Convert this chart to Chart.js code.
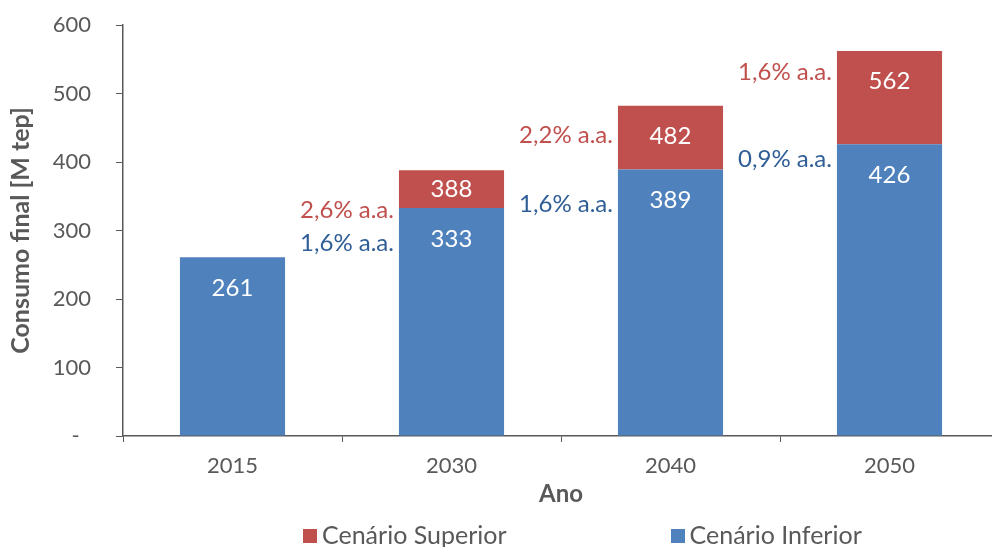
<!DOCTYPE html>
<html>
<head>
<meta charset="utf-8">
<script src="https://cdn.jsdelivr.net/npm/chart.js@4"></script>
<style>
  body { margin: 0; overflow: hidden; background: #fff; }
  #wrap { position: relative; width: 1000px; height: 547px; }
  #legend { position: absolute; left: 303px; top: 519px; display: flex; gap: 164px; line-height: 30px;
            font-family: Lato, "Open Sans", sans-serif; font-size: 25px; color: #595959; }
  #legend span.box { display: inline-block; width: 14px; height: 14px; margin-right: 5px; vertical-align: 1px; }
</style>
</head>
<body>
<div id="wrap">
  <canvas id="chart" width="1000" height="547"></canvas>
  <div id="legend"></div>
</div>
<script>
// data
const years = ['2015', '2030', '2040', '2050'];
const inferior = [261, 333, 389, 426];   // Cenário Inferior
const superior = [261, 388, 482, 562];   // Cenário Superior (total)
const seriesNames = ['Cenário Superior', 'Cenário Inferior'];
const seriesColors = ['#C0504D', '#4F81BD'];
const yTicks = [0, 100, 200, 300, 400, 500, 600];
// growth rates shown left of the bars 2030, 2040, 2050
const inferiorRates = ['1,6% a.a.', '1,6% a.a.', '0,9% a.a.'];
const superiorRates = ['2,6% a.a.', '2,2% a.a.', '1,6% a.a.'];

const FONT = 'Lato, "Open Sans", sans-serif';
const GRAY = '#595959';

const extra = superior.map((v, i) => v - inferior[i]);

// value labels inside the bars + growth rate notes
const labelPlugin = {
  id: 'labels',
  afterDatasetsDraw(chart) {
    const ctx = chart.ctx;
    ctx.save();
    ctx.font = '24px ' + FONT;
    ctx.fillStyle = '#fff';
    ctx.textAlign = 'center';
    ctx.textBaseline = 'middle';
    const metaInf = chart.getDatasetMeta(0);
    const metaSup = chart.getDatasetMeta(1);
    metaInf.data.forEach((bar, i) => {
      const h = bar.base - bar.y;
      ctx.fillText(inferior[i], bar.x, bar.y + Math.min(31, h / 2));
    });
    metaSup.data.forEach((bar, i) => {
      if (extra[i] <= 0) return;
      const h = bar.base - bar.y;
      ctx.fillText(superior[i], bar.x, bar.y + Math.min(30, h / 2));
    });

    // growth rates
    ctx.font = '24px ' + FONT;
    ctx.textAlign = 'right';
    const infOff = [35, 35, 15];
    const supOff = [40, 29, 21];
    for (let k = 0; k < 3; k++) {
      const bi = metaInf.data[k + 1];
      const bs = metaSup.data[k + 1];
      const left = bi.x - bi.width / 2 - 5;
      ctx.fillStyle = '#2F5E96';
      ctx.fillText(inferiorRates[k], left, bi.y + infOff[k]);
      ctx.fillStyle = '#C0504D';
      ctx.fillText(superiorRates[k], left, bs.y + supOff[k]);
    }
    ctx.restore();
  }
};

new Chart(document.getElementById('chart'), {
  type: 'bar',
  data: {
    labels: years,
    datasets: [
      { label: seriesNames[1], data: inferior, backgroundColor: seriesColors[1] },
      { label: seriesNames[0], data: extra, backgroundColor: seriesColors[0] }
    ]
  },
  options: {
    responsive: false,
    animation: false,
    layout: { padding: { top: 25, right: 1, bottom: 38, left: 0 } },
    datasets: { bar: { barPercentage: 0.48, categoryPercentage: 1 } },
    plugins: { legend: { display: false }, tooltip: { enabled: false } },
    scales: {
      x: {
        stacked: true,
        afterFit: s => { s.height = 73; },
        grid: { drawOnChartArea: false, tickLength: 6, color: GRAY, offset: true },
        border: { color: GRAY, width: 1.5 },
        ticks: { color: GRAY, font: { family: FONT, size: 22 }, padding: 11 },
        title: { display: true, text: 'Ano', color: GRAY, font: { family: FONT, size: 24, weight: 'bold' }, padding: 0 }
      },
      y: {
        stacked: true,
        min: 0, max: 600,
        afterFit: s => { s.width = 123; s.paddingTop = 0; s.paddingBottom = 0; },
        afterBuildTicks: s => { s.ticks = yTicks.map(v => ({ value: v })); },
        grid: { drawOnChartArea: false, tickLength: 7, color: GRAY },
        border: { color: GRAY, width: 1.5 },
        ticks: {
          color: GRAY, font: { family: FONT, size: 22 }, padding: 25,
          callback: v => v === 0 ? '-  ' : v
        },
        title: { display: true, text: 'Consumo final [M tep]', color: GRAY, font: { family: FONT, size: 25, weight: 'bold' }, padding: { top: 6, bottom: 0 } }
      }
    }
  },
  plugins: [labelPlugin]
});

// legend
const lg = document.getElementById('legend');
seriesNames.forEach((name, i) => {
  const item = document.createElement('div');
  item.innerHTML = '<span class="box" style="background:' + seriesColors[i] + '"></span>' + name;
  lg.appendChild(item);
});
</script>
</body>
</html>
